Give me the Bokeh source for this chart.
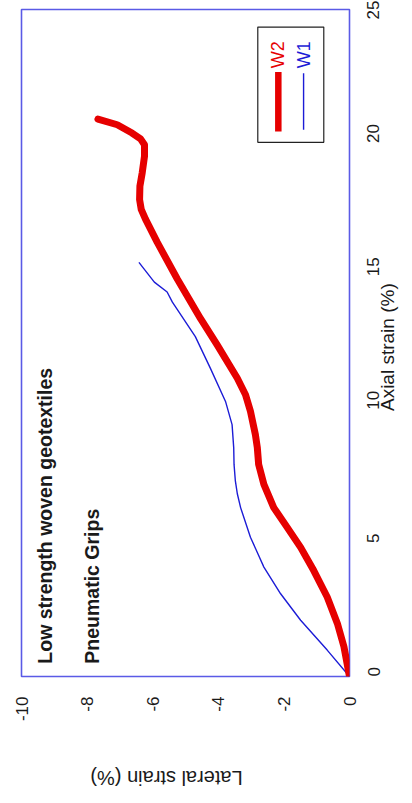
import math
from bokeh.plotting import figure
from bokeh.models import Range1d, FixedTicker, Label, LinearAxis
from bokeh.embed import file_html
from bokeh.resources import INLINE

# ---- data (original chart: lateral strain vs axial strain) ----
w2_axial = [0.00, 1.12, 1.99, 2.98, 3.97, 4.84, 5.59, 6.33, 7.20, 7.95, 8.57, 9.07, 9.94,
            10.56, 11.18, 12.42, 13.41, 14.90, 16.27, 17.14, 17.51, 17.88, 18.38, 18.88,
            19.50, 19.93, 20.15, 20.37, 20.68, 20.89]
w2_lateral = [0.00, -0.17, -0.37, -0.68, -1.09, -1.49, -1.90, -2.31, -2.61, -2.77, -2.81, -2.87, -3.02,
              -3.17, -3.42, -4.03, -4.54, -5.25, -5.86, -6.22, -6.35, -6.40, -6.39, -6.32,
              -6.25, -6.25, -6.37, -6.63, -7.08, -7.67]
w1_axial = [0.00, 0.99, 2.11, 3.10, 4.10, 5.22, 6.33, 6.85, 7.33, 7.95, 8.57, 9.44, 10.31, 11.55, 12.74,
            14.03, 14.41, 14.78, 15.52]
w1_lateral = [0.00, -0.68, -1.49, -2.10, -2.61, -3.02, -3.32, -3.42, -3.48, -3.52, -3.53, -3.58, -3.78, -4.24, -4.70,
              -5.40, -5.56, -5.95, -6.42]
series_names = ["W2", "W1"]
axial_ticks = [0, 5, 10, 15, 20, 25]
lateral_ticks = [-10, -8, -6, -4, -2, 0]
axial_label = "Axial strain (%)"
lateral_label = "Lateral strain (%)"
note1 = "Low strength woven geotextiles"
note2 = "Pneumatic Grips"

RED = "#e60000"
BLUE = "#1c1cd6"
FRAME = "#5a5ae6"
FONT = "Liberation Sans"
INK = "#1a1a1a"

# the picture is the chart turned a quarter turn: lateral strain runs across, axial strain up
p = figure(output_backend="svg", toolbar_location=None,
           x_range=Range1d(-10, 0), y_range=Range1d(0, 25),
           width=412, height=802,
           min_border_left=21, min_border_top=9, min_border_right=63, min_border_bottom=122,
           y_axis_location="right")
p.background_fill_color = "white"
p.border_fill_color = "white"
p.outline_line_color = FRAME
p.outline_line_width = 1.6
p.xgrid.visible = False
p.ygrid.visible = False


def style_axis(ax, ticks, labels, standoff, size, angle):
    ax.ticker = FixedTicker(ticks=ticks)
    ax.major_label_overrides = dict(zip(ticks, labels))
    ax.axis_line_color = None
    ax.major_tick_line_color = None
    ax.minor_tick_line_color = None
    ax.major_tick_out = 0
    ax.major_tick_in = 0
    ax.major_label_standoff = standoff
    ax.major_label_text_font = FONT
    ax.major_label_text_font_size = size
    ax.major_label_text_color = INK
    ax.major_label_orientation = angle


xa, ya = p.xaxis[0], p.yaxis[0]
style_axis(xa, lateral_ticks, [str(t) for t in lateral_ticks], 20, "17px", math.pi / 2)
style_axis(ya, axial_ticks, [str(t) for t in axial_ticks], 24, "17px", math.pi / 2)

# axis titles, written (turned with the chart) as the single label of an extra axis
ya_title = LinearAxis()
style_axis(ya_title, [9.95], [axial_label], -1, "19px", math.pi / 2)
p.add_layout(ya_title, "right")
xa_title = LinearAxis()
style_axis(xa_title, [-7.9], [lateral_label], 53, "20px", math.pi)
p.add_layout(xa_title, "below")

p.line(w1_lateral, w1_axial, line_color=BLUE, line_width=1.4, line_join="round")
p.line(w2_lateral, w2_axial, line_color=RED, line_width=7, line_join="round", line_cap="round")

# notes
p.add_layout(Label(x=-9.27, y=0.48, text=note1, angle=math.pi / 2,
                   text_align="left", text_baseline="middle", text_font_style="bold",
                   text_font=FONT, text_font_size="19.5px", text_color=INK))
p.add_layout(Label(x=-7.84, y=0.48, text=note2, angle=math.pi / 2,
                   text_align="left", text_baseline="middle", text_font_style="bold",
                   text_font=FONT, text_font_size="19.5px", text_color=INK))

# legend (turned with the chart)
p.quad(left=[-2.796], right=[-0.784], bottom=[20.02], top=[24.34],
       fill_color=None, line_color="#222222", line_width=1.2)
p.line([-2.17, -2.17], [20.43, 22.66], line_color=RED, line_width=6.5)
p.line([-1.40, -1.40], [20.49, 22.61], line_color=BLUE, line_width=1.4)
for nm, lx, col in ((series_names[0], -2.18, RED), (series_names[1], -1.40, BLUE)):
    p.add_layout(Label(x=lx, y=22.80, text=nm, angle=math.pi / 2,
                       text_align="left", text_baseline="middle",
                       text_font=FONT, text_font_size="18px", text_color=col))

open("out.html", "w").write(file_html(p, INLINE))
